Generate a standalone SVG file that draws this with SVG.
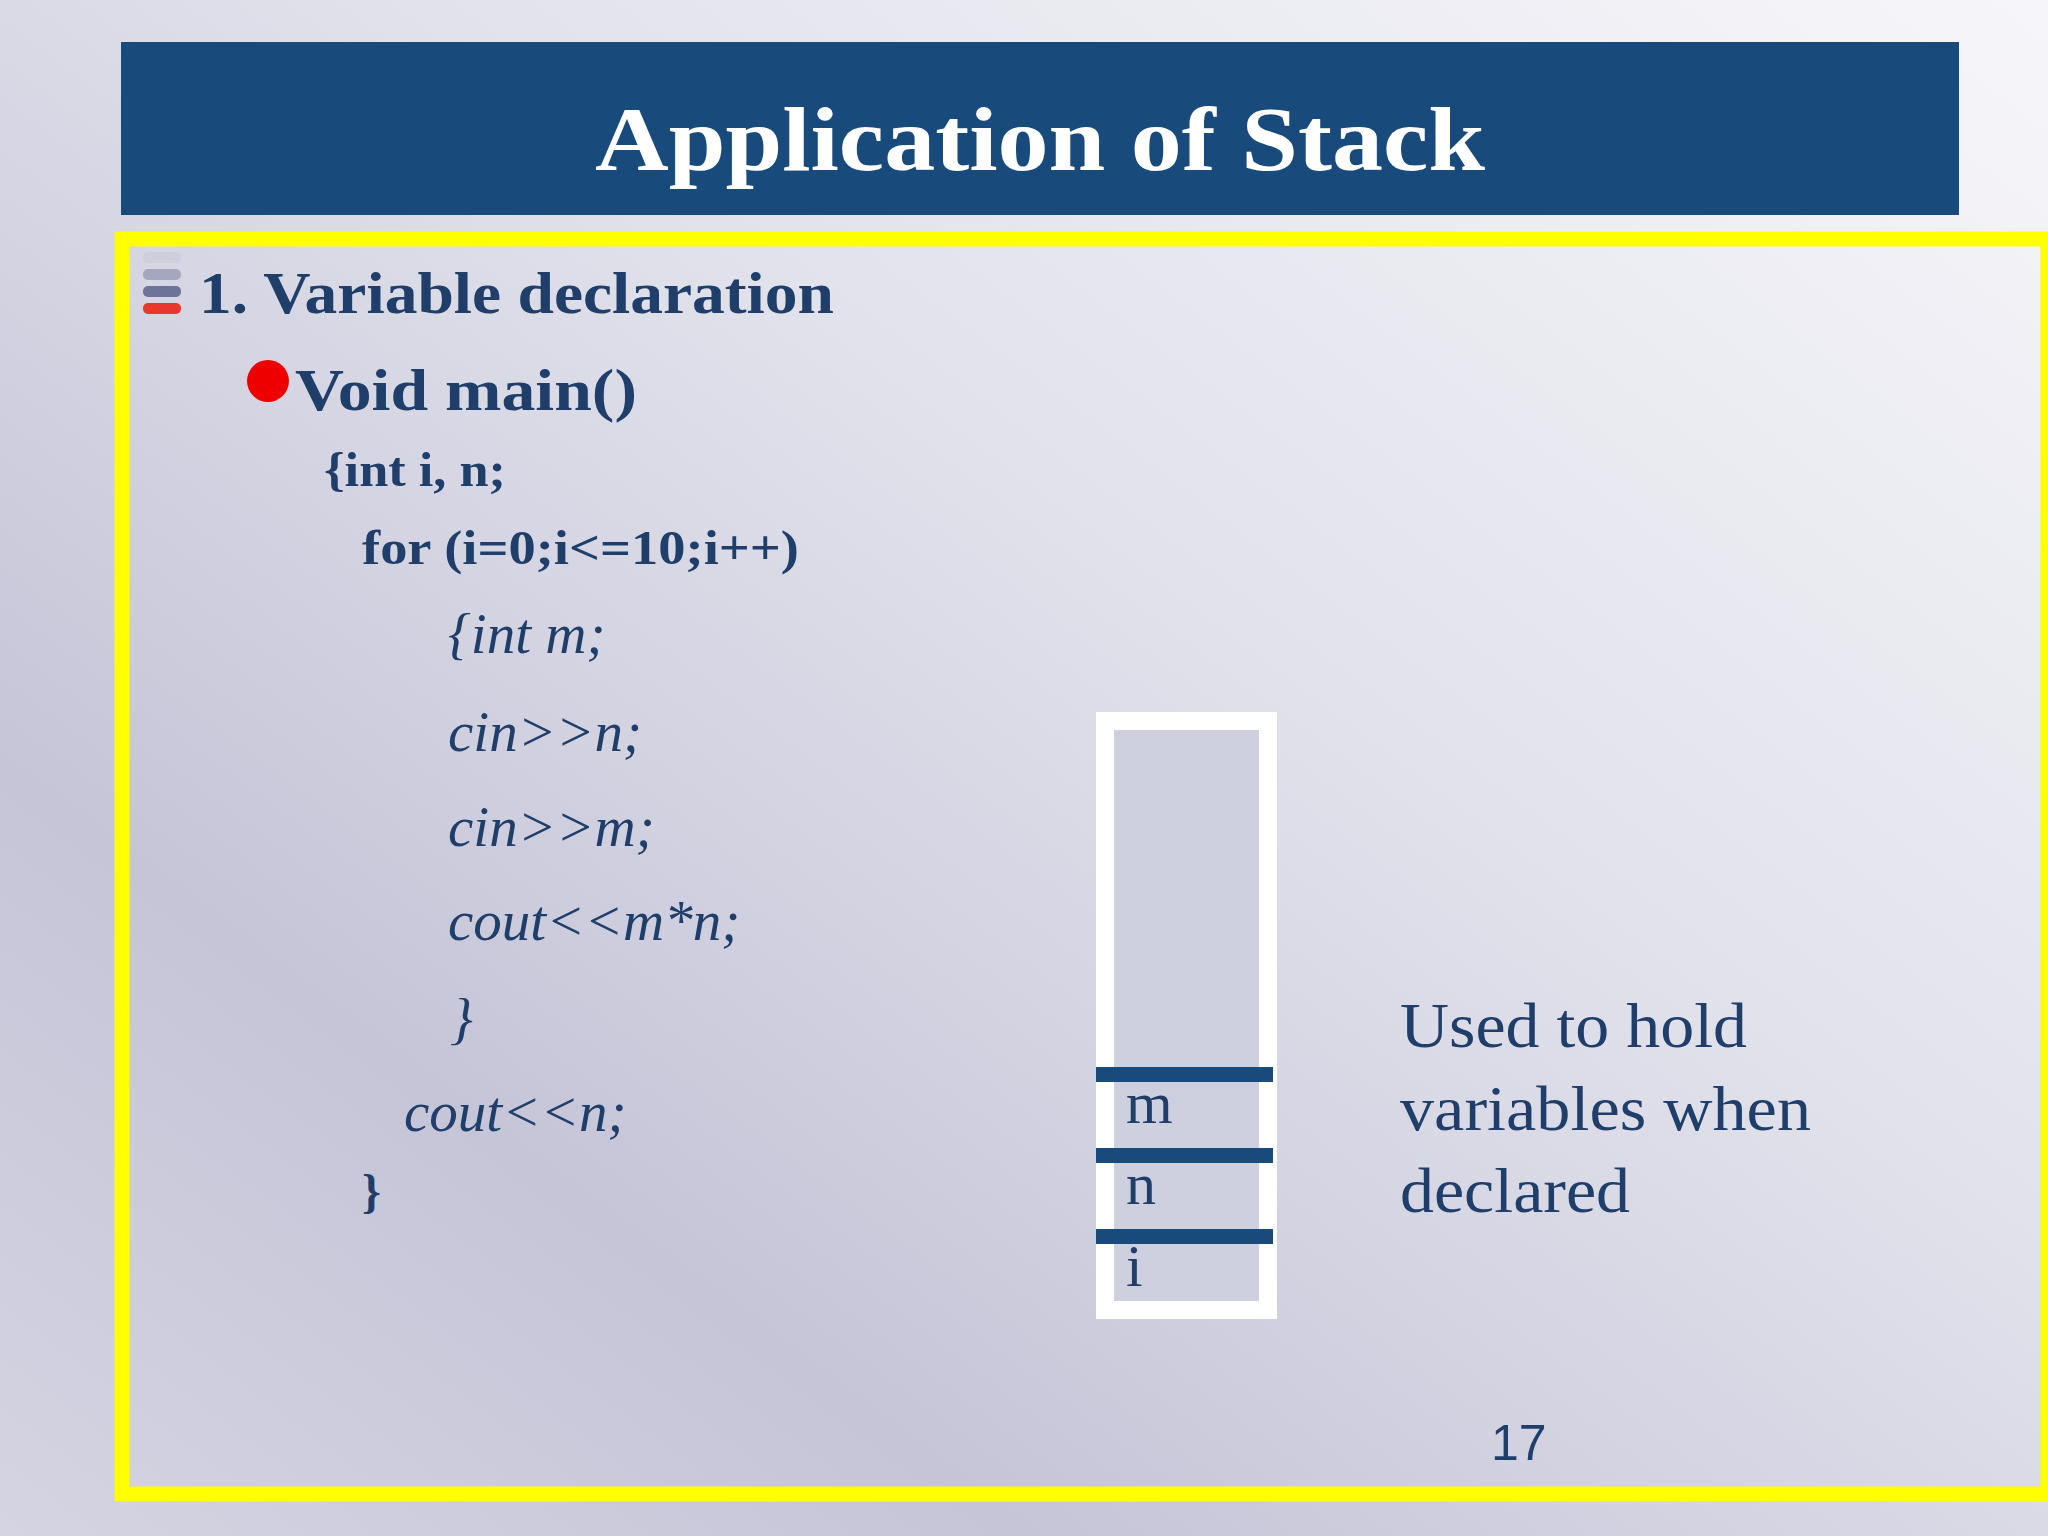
<svg xmlns="http://www.w3.org/2000/svg" width="2048" height="1536" viewBox="0 0 2048 1536">
<defs>
<linearGradient id="bg" x1="1" y1="0" x2="0" y2="1">
<stop offset="0" stop-color="#f6f6fa"/>
<stop offset="0.4" stop-color="#e2e2ec"/>
<stop offset="0.75" stop-color="#c6c5d8"/>
<stop offset="1" stop-color="#d4d4e2"/>
</linearGradient>
<style>
.t{font-family:"Liberation Serif",serif;fill:#1f3f6a}
.b{font-weight:bold}
.c{font-style:italic;font-size:57px}
.s{font-size:64px}
</style>
</defs>
<rect width="2048" height="1536" fill="url(#bg)"/>
<g id="header">
<rect x="121" y="42" width="1838" height="173" fill="#194a7c"/>
<text x="595" y="170" textLength="890" lengthAdjust="spacingAndGlyphs" font-family="Liberation Serif, serif" font-weight="bold" font-size="92" fill="#ffffff">Application of Stack</text>
</g>
<rect x="122" y="239" width="1926" height="1255" fill="none" stroke="#ffff00" stroke-width="15"/>
<g id="bullet1">
<rect x="143" y="252" width="38" height="11" rx="5" fill="#cfcfdc"/>
<rect x="143" y="269" width="38" height="11" rx="5" fill="#a6a7bf"/>
<rect x="143" y="286" width="38" height="11" rx="5" fill="#6e7498"/>
<rect x="143" y="303" width="38" height="11" rx="5" fill="#e8382e"/>
<text class="t b" x="199" y="313" font-size="60" textLength="635" lengthAdjust="spacingAndGlyphs">1. Variable declaration</text>
</g>
<g id="code">
<circle cx="268" cy="381" r="21" fill="#ee0000"/>
<text class="t b" x="295" y="410" font-size="60" textLength="342" lengthAdjust="spacingAndGlyphs">Void main()</text>
<text class="t b" x="324" y="486" font-size="48" textLength="182" lengthAdjust="spacingAndGlyphs">{int i, n;</text>
<text class="t b" x="362" y="564" font-size="48" textLength="437" lengthAdjust="spacingAndGlyphs">for (i=0;i&lt;=10;i++)</text>
<text class="t c" x="448" y="653">{int m;</text>
<text class="t c" x="448" y="751">cin&gt;&gt;n;</text>
<text class="t c" x="448" y="846">cin&gt;&gt;m;</text>
<text class="t c" x="448" y="940">cout&lt;&lt;m*n;</text>
<text class="t c" x="450" y="1038">}</text>
<text class="t c" x="404" y="1131">cout&lt;&lt;n;</text>
<text class="t b" x="362" y="1208" font-size="48">}</text>
</g>
<g id="stack">
<rect x="1105" y="721" width="163" height="589" fill="#cfd0df" stroke="#ffffff" stroke-width="18"/>
<rect x="1096" y="1067" width="177" height="15" fill="#194a7c"/>
<rect x="1096" y="1148" width="177" height="15" fill="#194a7c"/>
<rect x="1096" y="1229" width="177" height="15" fill="#194a7c"/>
<text class="t" x="1126" y="1123" font-size="60">m</text>
<text class="t" x="1126" y="1204" font-size="60">n</text>
<text class="t" x="1126" y="1286" font-size="60">i</text>
</g>
<g id="note">
<text class="t s" x="1400" y="1047" textLength="347" lengthAdjust="spacingAndGlyphs">Used to hold</text>
<text class="t s" x="1400" y="1130" textLength="411" lengthAdjust="spacingAndGlyphs">variables when</text>
<text class="t s" x="1400" y="1212" textLength="230" lengthAdjust="spacingAndGlyphs">declared</text>
</g>
<text x="1491" y="1460" font-family="Liberation Sans, sans-serif" font-size="50" fill="#1f3f6a">17</text>
</svg>
